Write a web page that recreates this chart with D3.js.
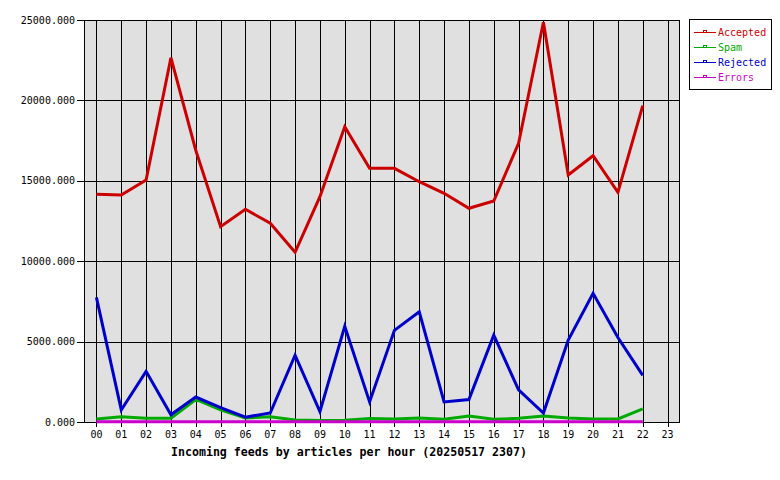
<!DOCTYPE html>
<html><head><meta charset="utf-8">
<script src="https://cdn.jsdelivr.net/npm/d3@7"></script>
<style>body{margin:0;background:#fff}svg{display:block}</style>
</head><body><svg id="c" width="780" height="480"></svg>
<script>
const hours = ["00","01","02","03","04","05","06","07","08","09","10","11","12","13","14","15","16","17","18","19","20","21","22","23"];
const accepted = [14160,14117,15050,22656,16900,12146,13228,12357,10553,14012,18366,15777,15777,14944,14222,13290,13744,17332,24860,15361,16561,14285,19670];
const spam = [180,320,230,230,1400,750,250,330,120,100,110,220,190,250,170,370,170,230,370,250,190,190,810];
const rejected = [7750,750,3150,450,1550,900,300,560,4150,650,5950,1250,5700,6850,1250,1400,5400,2000,560,5100,8000,5250,2900];
const errors = [20,20,20,20,20,20,20,20,20,20,20,20,20,20,20,20,20,20,20,20,20,20,20];
const yTicks = [0,5000,10000,15000,20000,25000];
const seriesNames = ["Accepted","Spam","Rejected","Errors"];
const seriesColors = ["#cc0000","#00aa00","#0000cc","#cc00cc"];
const seriesData = [accepted, spam, rejected, errors];

const svg = d3.select("#c");
const L = 84, R = 680, T = 20, B = 422;
const x = d3.scaleLinear().domain([-0.5, 23.5]).range([L, R]);
const y = d3.scaleLinear().domain([0, 25000]).range([B, T]);
const font = "'DejaVu Sans Mono', monospace";

svg.append("rect").attr("x", L).attr("y", T).attr("width", R - L).attr("height", B - T).attr("fill", "#e0e0e0");

const g = svg.append("g").attr("shape-rendering", "crispEdges");
// vertical grid
g.selectAll("line.vg").data(hours).join("line")
  .attr("x1", (d,i) => Math.round(x(i)) + 0.5).attr("x2", (d,i) => Math.round(x(i)) + 0.5)
  .attr("y1", T).attr("y2", B + 5).attr("stroke", "#000");
// horizontal grid
g.selectAll("line.hg").data(yTicks).join("line")
  .attr("x1", L - 7).attr("x2", R)
  .attr("y1", d => Math.round(y(d)) + 0.5).attr("y2", d => Math.round(y(d)) + 0.5).attr("stroke", "#000");
// border
g.append("rect").attr("x", L + 0.5).attr("y", T + 0.5).attr("width", R - L - 1).attr("height", B - T).attr("fill", "none").attr("stroke", "#000");

// y labels
svg.selectAll("text.yl").data(yTicks).join("text")
  .attr("x", L - 9).attr("y", d => y(d)).attr("dy", "0.35em").attr("text-anchor", "end")
  .attr("font-family", font).attr("font-size", "10px").attr("fill", "#000")
  .text(d => d3.format(".3f")(d));
// x labels
svg.selectAll("text.xl").data(hours).join("text")
  .attr("x", (d,i) => x(i)).attr("y", 434).attr("dy", "0.35em").attr("text-anchor", "middle")
  .attr("font-family", font).attr("font-size", "10px").attr("fill", "#000")
  .text(d => d);
// title
svg.append("text").attr("x", 349).attr("y", 452).attr("dy", "0.35em").attr("text-anchor", "middle")
  .attr("font-family", font).attr("font-size", "11.6px").attr("font-weight", "bold").attr("fill", "#000")
  .text("Incoming feeds by articles per hour (20250517 2307)");

// lines
const line = d3.line().x((d,i) => x(i)).y(d => y(d));
seriesData.forEach((s, k) => {
  svg.append("path").datum(s).attr("d", line).attr("fill", "none")
    .attr("stroke", seriesColors[k]).attr("stroke-width", 3).attr("stroke-linejoin", "miter");
});

// legend
const lg = svg.append("g");
lg.append("rect").attr("x", 689.5).attr("y", 19.5).attr("width", 82).attr("height", 70)
  .attr("fill", "#fff").attr("stroke", "#000").attr("shape-rendering", "crispEdges");
seriesNames.forEach((n, k) => {
  const yy = 32.5 + k * 15;
  lg.append("line").attr("x1", 694).attr("x2", 716).attr("y1", yy).attr("y2", yy)
    .attr("stroke", seriesColors[k]).attr("shape-rendering", "crispEdges");
  lg.append("rect").attr("x", 703.5).attr("y", yy - 2).attr("width", 3).attr("height", 2)
    .attr("fill", "none").attr("stroke", seriesColors[k]).attr("shape-rendering", "crispEdges");
  lg.append("text").attr("x", 718).attr("y", yy).attr("dy", "0.35em")
    .attr("font-family", font).attr("font-size", "10px").attr("fill", seriesColors[k]).text(n);
});
</script></body></html>
